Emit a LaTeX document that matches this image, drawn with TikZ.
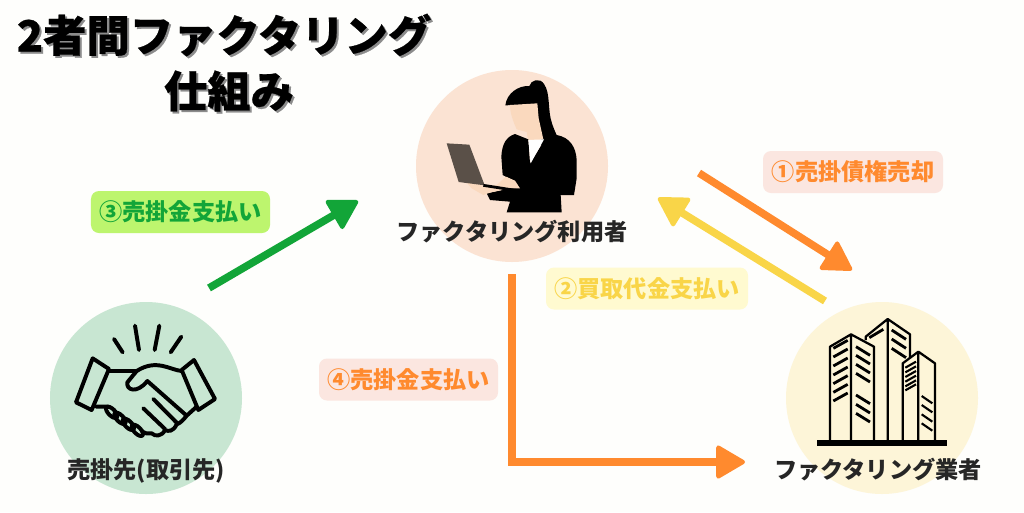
\documentclass[tikz,border=0pt]{standalone}
\usepackage{fontspec}
\setmainfont{Noto Sans CJK JP}
\newfontfamily\titlefont{Noto Sans CJK JP}[BoldFeatures={FakeBold=0.5}]
\usetikzlibrary{arrows.meta}
\definecolor{pagecol}{HTML}{FEFEFC}
\definecolor{peachcol}{HTML}{FBE3D3}
\definecolor{mintcol}{HTML}{C8E6D2}
\definecolor{creamcol}{HTML}{FDF5D8}
\definecolor{skincol}{HTML}{FAD9BE}
\definecolor{laptopcol}{HTML}{5A5048}
\definecolor{orangecol}{HTML}{FF8A2E}
\definecolor{yellowcol}{HTML}{F9D548}
\definecolor{greencol}{HTML}{12A538}
\definecolor{tagorange}{HTML}{FBE6E0}
\definecolor{tagyellow}{HTML}{FFFAD0}
\definecolor{taggreen}{HTML}{BDF56E}
\tikzset{
  party/.style={circle,minimum size=48mm,inner sep=0pt},
  caption/.style={font=\fontsize{16.5}{18}\selectfont\bfseries,text=black!85,inner sep=0pt},
  tag/.style={rounded corners=2mm,minimum height=10.5mm,inner sep=0pt,font=\fontsize{16.5}{18}\selectfont\bfseries},
  flow/.style={line width=5.4pt,-{Triangle[round,length=22pt,width=25pt,line width=3pt]}},
  titletext/.style={font=\titlefont\fontsize{30.8}{34}\selectfont\bfseries,inner sep=0pt},
  ink/.style={line width=2.8pt,line cap=round,line join=round},
  thin ink/.style={line width=1.6pt,line join=round},
}
\begin{document}
\begin{tikzpicture}[x=0.25mm,y=-0.25mm]
\useasboundingbox(0,0)rectangle(1024,512);
\fill[pagecol](0,0)rectangle(1024,512);
\node[party,fill=peachcol](user)at(512,166){};
\node[party,fill=mintcol](client)at(146,398){};
\node[party,fill=creamcol](firm)at(882,398){};
% woman with laptop
\begin{scope}[shift={(400,60)},scale=1/3]
\fill[black](316,136)..controls(320,100)and(355,76)..(388,78)..controls(392,60)and(420,52)..(432,72)..controls(452,100)and(442,150)..(456,190)..controls(464,215)and(475,235)..(485,255)--(420,255)--(410,140)--(345,135)--cycle;
\fill[skincol](330,135)--(412,130)--(416,175)--(430,238)--(385,245)--(380,216)--(350,208)..controls(340,185)and(330,160)..(330,135)--cycle;
\fill[black](345,222)--(385,238)--(390,310)--(435,238)--(470,225)..controls(510,232)and(528,262)..(530,300)--(530,355)--(522,405)--(482,405)--(485,457)--(320,457)--(330,425)--(270,420)--(260,400)--(330,385)--(340,362)--(308,345)--(304,290)..controls(306,250)and(320,230)..(345,222)--cycle;
\fill[white](385,240)--(432,238)--(392,310)--cycle;
\fill[skincol](200,368)--(222,355)--(250,380)--(290,375)--(318,350)--(345,362)--(360,385)--(330,385)--(270,398)--(250,405)--(215,385)--cycle;
\fill[laptopcol](140,250)--(208,254)--(254,376)--(176,366)--cycle;
\draw[line width=2pt,black](250,376)--(365,394);
\end{scope}
% handshake
\begin{scope}[shift={(40,295)},scale=1/3]
\draw[ink](222,132)--(248,172)(285,92)--(297,165)(358,92)--(344,165)(424,125)--(392,172);
\draw[ink](158,190)--(207,222)--(155,345)--(108,322)--cycle;
\draw[ink](462,195)--(525,312)--(475,345)--(425,225)--cycle;
\draw[ink](207,228)--(290,228)--(262,262)..controls(258,285)and(290,298)..(322,258)--(440,362);
\draw[ink](425,228)..controls(390,225)and(350,190)..(290,228);
\draw[ink](168,335)--(205,335)(470,335)--(440,362)..controls(430,375)and(420,385)..(410,388)..controls(400,410)and(385,410)..(375,405)..controls(365,425)and(345,425)..(335,415)..controls(325,418)and(315,415)..(305,408);
\draw[ink](340,312)--(412,385)(310,340)--(375,402);
\foreach \kx/\ky in {215/352,240/370,265/388,292/406}{
\draw[ink,rotate around={45:(\kx,\ky)}](\kx,\ky)ellipse[x radius=10,y radius=22];
}
\end{scope}
% office buildings
\begin{scope}[shift={(780,295)},scale=1/3]
\draw[thin ink](150,435)--(150,155)--(213,118)--(282,155)--(282,435)(213,118)--(213,435);
\draw[thin ink](257,135)--(257,125)--(323,72)--(390,118)--(390,190)(323,72)--(323,435);
\draw[thin ink](368,435)--(368,205)--(415,170)--(465,205)--(465,435)(415,170)--(415,435);
\fill[black](112,435)rectangle(502,452);
\foreach \wy in {160,186,213,240,266,292,318}{\draw[thin ink,line width=2pt](160,\wy)--(203,\wy-24);}
\foreach \wy in {155,181,208,235,300,328,355}{\draw[thin ink,line width=2pt](228,\wy)--(270,\wy+26);}
\draw[thin ink,line width=2pt](268,128)--(310,103);
\foreach \wy in {105,132,160}{\draw[thin ink,line width=2pt](335,\wy)--(378,\wy+28);}
\foreach \wy in {218,232,246,260,274,286}{\draw[thin ink,line width=1.5pt](376,\wy)--(408,\wy-18);}
\foreach \wy in {303,330,358,385}{\draw[thin ink,line width=1.5pt](425,\wy)--(457,\wy+22);}
\end{scope}
\node[titletext,text=black!45](titleshadeA)at(226,37){2者間ファクタリング};
\node[titletext,text=black!45](titleshadeB)at(231,93){仕組み};
\node[titletext](titleA)at(224,35){2者間ファクタリング};
\node[titletext](titleB)at(229,91){仕組み};
\node[caption](usertext)at(512,232){ファクタリング利用者};
\node[caption](clienttext)at(146,471){売掛先(取引先)};
\node[caption](firmtext)at(878,470){ファクタリング業者};
\node[tag,fill=tagorange,text=orangecol,minimum width=45mm](tagA)at(853,172){①売掛債権売却};
\node[tag,fill=tagyellow,text=yellowcol,minimum width=50.5mm](tagB)at(647,288.5){②買取代金支払い};
\node[tag,fill=taggreen,text=greencol,minimum width=44.75mm](tagC)at(180.5,212){③売掛金支払い};
\node[tag,fill=tagorange,text=orangecol,minimum width=44.75mm](tagD)at(408.5,379.5){④売掛金支払い};
\coordinate(sellfrom)at(699,173);
\coordinate(sellto)at(852,270);
\coordinate(payfrom)at(825,301);
\coordinate(payto)at(658,198);
\coordinate(clientfrom)at(209,288);
\coordinate(clientto)at(358,201);
\coordinate(forwardfrom)at(512,274);
\coordinate(forwardto)at(745,462);
\draw[flow,orangecol](sellfrom)--(sellto);
\draw[flow,yellowcol](payfrom)--(payto);
\draw[flow,greencol](clientfrom)--(clientto);
\draw[flow,orangecol,line width=6.2pt](forwardfrom)|-(forwardto);
\end{tikzpicture}
\end{document}
